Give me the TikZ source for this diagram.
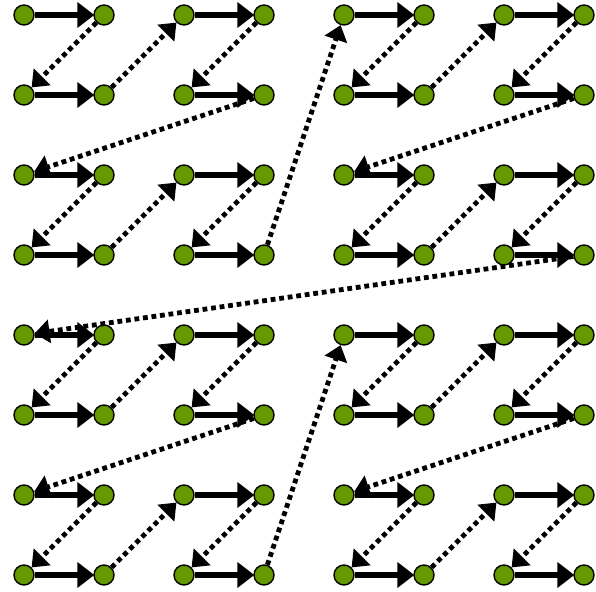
\documentclass[tikz,border=0pt]{standalone}
\usetikzlibrary{arrows.meta}
\definecolor{pointgreen}{RGB}{102,153,0}
\tikzset{
  pt/.style={circle, draw=black, line width=1.4pt, fill=pointgreen, minimum size=20pt, inner sep=0pt},
  solidlink/.style={line width=5.6pt, -{Triangle[length=17pt,width=25pt]}, shorten >=-1pt},
  dottedlink/.style={line width=4.8pt, dash pattern=on 4.8pt off 3.8pt, -{Triangle[length=15pt,width=23pt]}}
}
\begin{document}
\begin{tikzpicture}
  \useasboundingbox (0pt,0pt) rectangle (596pt,-591pt);
  % 8x8 grid of points
  \foreach \i in {0,...,7} {
    \foreach \j in {0,...,7} {
      \node[pt] (p-\i-\j) at ({24pt+80pt*\i}, {-15pt-80pt*\j}) {};
    }
  }
  % Z-order (Morton) traversal: horizontal steps solid, jumps dotted
  \foreach \k in {1,...,63} {
    \pgfmathtruncatemacro\m{\k-1}
    \pgfmathtruncatemacro\ax{mod(\m,2)+2*mod(floor(\m/4),2)+4*mod(floor(\m/16),2)}
    \pgfmathtruncatemacro\ay{mod(floor(\m/2),2)+2*mod(floor(\m/8),2)+4*mod(floor(\m/32),2)}
    \pgfmathtruncatemacro\bx{mod(\k,2)+2*mod(floor(\k/4),2)+4*mod(floor(\k/16),2)}
    \pgfmathtruncatemacro\by{mod(floor(\k/2),2)+2*mod(floor(\k/8),2)+4*mod(floor(\k/32),2)}
    \pgfmathtruncatemacro\odd{mod(\k,2)}
    \ifnum\odd=1
      \draw[solidlink] (p-\ax-\ay) -- (p-\bx-\by);
    \else
      \draw[dottedlink] (p-\ax-\ay) -- (p-\bx-\by);
    \fi
  }
\end{tikzpicture}
\end{document}
